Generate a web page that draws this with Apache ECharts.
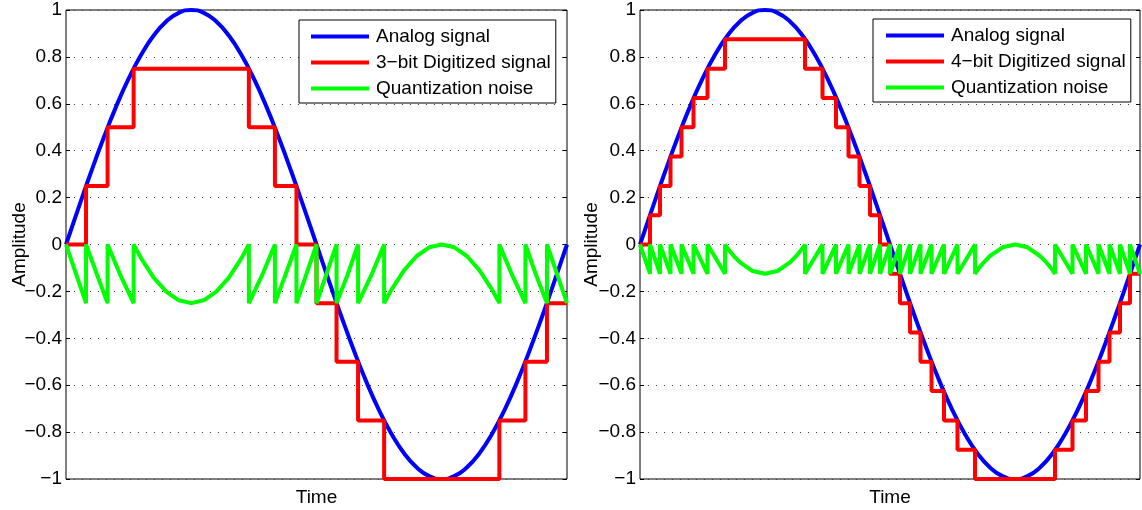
<!DOCTYPE html>
<html>
<head>
<meta charset="utf-8">
<title>Quantization</title>
<script src="https://cdn.jsdelivr.net/npm/echarts@6/dist/echarts.min.js"></script>
<style>
	html, body {
		margin: 0;
		padding: 0;
		background: #fff;
	}
	#chart {
		width: 1142px;
		height: 510px;
	}
</style>
</head>
<body>
<div id="chart"></div>
<script>
	// one period of the analog sine
	const timeAxis = [0, 0.025, 0.05, 0.075, 0.1, 0.125, 0.15, 0.175, 0.2, 0.225, 0.25, 0.275, 0.3, 0.325, 0.35, 0.375, 0.4, 0.425, 0.45, 0.475, 0.5,
		0.525, 0.55, 0.575, 0.6, 0.625, 0.65, 0.675, 0.7, 0.725, 0.75, 0.775, 0.8, 0.825, 0.85, 0.875, 0.9, 0.925, 0.95, 0.975, 1]
	const analog = [0, 0.156, 0.309, 0.454, 0.588, 0.707, 0.809, 0.891, 0.951, 0.988, 1, 0.988, 0.951, 0.891, 0.809, 0.707, 0.588, 0.454, 0.309, 0.156, 0,
		-0.156, -0.309, -0.454, -0.588, -0.707, -0.809, -0.891, -0.951, -0.988, -1, -0.988, -0.951, -0.891, -0.809, -0.707, -0.588, -0.454, -0.309, -0.156, 0]

	// 3-bit digitized signal: time where each level starts
	const digi3Time = [0, 0.040, 0.083, 0.135, 0.365, 0.417, 0.460, 0.500, 0.540, 0.583, 0.635, 0.865, 0.917, 0.960, 1]
	const digi3Level = [0, 0.25, 0.5, 0.75, 0.5, 0.25, 0, -0.25, -0.5, -0.75, -1, -0.75, -0.5, -0.25, -0.25]

	// 4-bit digitized signal
	const digi4Time = [0, 0.020, 0.040, 0.061, 0.083, 0.107, 0.135, 0.170, 0.330, 0.365, 0.392, 0.417, 0.439, 0.460, 0.480,
		0.500, 0.520, 0.540, 0.561, 0.583, 0.608, 0.635, 0.670, 0.830, 0.865, 0.892, 0.917, 0.939, 0.960, 0.980, 1]
	const digi4Level = [0, 0.125, 0.25, 0.375, 0.5, 0.625, 0.75, 0.875, 0.75, 0.625, 0.5, 0.375, 0.25, 0.125, 0,
		-0.125, -0.25, -0.375, -0.5, -0.625, -0.75, -0.875, -1, -0.875, -0.75, -0.625, -0.5, -0.375, -0.25, -0.125, -0.125]

	// quantization noise, 3-bit
	const noise3Time = [0, 0.040, 0.040, 0.062, 0.083, 0.083, 0.109, 0.135,
		0.135, 0.150, 0.175, 0.200, 0.225, 0.250, 0.275, 0.300, 0.325, 0.350, 0.365,
		0.365, 0.391, 0.417, 0.417, 0.438, 0.460, 0.460, 0.500, 0.500, 0.540, 0.540, 0.562, 0.583, 0.583, 0.609, 0.635,
		0.635, 0.650, 0.675, 0.700, 0.725, 0.750, 0.775, 0.800, 0.825, 0.850, 0.865,
		0.865, 0.891, 0.917, 0.917, 0.938, 0.960, 0.960, 1]
	const noise3Value = [0, -0.25, 0, -0.129, -0.25, 0, -0.133, -0.25,
		0, -0.059, -0.141, -0.201, -0.238, -0.25, -0.238, -0.201, -0.141, -0.059, 0,
		-0.25, -0.133, 0, -0.25, -0.129, 0, -0.25, 0, -0.25, 0, -0.25, -0.129, 0, -0.25, -0.133, 0,
		-0.25, -0.191, -0.109, -0.049, -0.012, 0, -0.012, -0.049, -0.109, -0.191, -0.25,
		0, -0.133, -0.25, 0, -0.129, -0.25, 0, -0.25]

	// quantization noise, 4-bit
	const noise4Time = [0, 0.020, 0.020, 0.040, 0.040, 0.061, 0.061, 0.083, 0.083, 0.107, 0.107, 0.135, 0.135, 0.170,
		0.170, 0.175, 0.1875, 0.200, 0.225, 0.250, 0.275, 0.300, 0.3125, 0.325, 0.330,
		0.330, 0.365, 0.365, 0.392, 0.392, 0.417, 0.417, 0.439, 0.439, 0.460, 0.460, 0.480, 0.480, 0.500,
		0.500, 0.520, 0.520, 0.540, 0.540, 0.561, 0.561, 0.583, 0.583, 0.608, 0.608, 0.635, 0.635, 0.670,
		0.670, 0.675, 0.6875, 0.700, 0.725, 0.750, 0.775, 0.800, 0.8125, 0.825, 0.830,
		0.830, 0.865, 0.865, 0.892, 0.892, 0.917, 0.917, 0.939, 0.939, 0.960, 0.960, 0.980, 0.980, 1]
	const noise4Value = [0, -0.125, 0, -0.125, 0, -0.125, 0, -0.125, 0, -0.125, 0, -0.125, 0, -0.125,
		0, -0.016, -0.049, -0.076, -0.113, -0.125, -0.113, -0.076, -0.049, -0.016, 0,
		-0.125, 0, -0.125, 0, -0.125, 0, -0.125, 0, -0.125, 0, -0.125, 0, -0.125, 0,
		-0.125, 0, -0.125, 0, -0.125, 0, -0.125, 0, -0.125, 0, -0.125, 0, -0.125, 0,
		-0.125, -0.109, -0.076, -0.049, -0.012, 0, -0.012, -0.049, -0.076, -0.109, -0.125,
		0, -0.125, 0, -0.125, 0, -0.125, 0, -0.125, 0, -0.125, 0, -0.125, 0, -0.125]

	const legend3 = ["Analog signal", "3\u2212bit Digitized signal", "Quantization noise"]
	const legend4 = ["Analog signal", "4\u2212bit Digitized signal", "Quantization noise"]

	const font = "'Liberation Sans', Arial, sans-serif"
	const lineW = 4

	function zip(xs, ys) {
		return xs.map((x, i) => [x, ys[i]])
	}

	function xAxisFor(idx) {
		return {
			type: "value",
			gridIndex: idx,
			min: 0,
			max: 1,
			name: "Time",
			nameLocation: "middle",
			nameGap: 9,
			nameMoveOverlap: false,
			nameTextStyle: { fontFamily: font, fontSize: 19, color: "#000" },
			axisLine: { show: false },
			axisTick: { show: false },
			axisLabel: { show: false },
			splitLine: { show: false }
		}
	}

	function yAxisFor(idx, gap) {
		return {
			type: "value",
			gridIndex: idx,
			min: -1,
			max: 1,
			interval: 0.2,
			name: "Amplitude",
			nameLocation: "middle",
			nameGap: gap,
			nameMoveOverlap: false,
			nameTextStyle: { fontFamily: font, fontSize: 19, color: "#000" },
			axisLine: { show: false },
			axisTick: { show: true, inside: true, length: 4, lineStyle: { color: "#000" } },
			axisLabel: {
				margin: 4,
				fontFamily: font,
				fontSize: 19,
				color: "#000",
				formatter: (v) => String(+v.toFixed(1)).replace("-", "\u2212")
			},
			splitLine: {
				show: true,
				lineStyle: { color: "#444", width: 1, type: [1, 7] }
			}
		}
	}

	// mirrored ticks on the right side of the box
	function yRightFor(idx) {
		return {
			type: "value",
			gridIndex: idx,
			position: "right",
			min: -1,
			max: 1,
			interval: 0.2,
			axisLine: { show: false },
			axisTick: { show: true, inside: true, length: 4, lineStyle: { color: "#000" } },
			axisLabel: { show: false },
			splitLine: { show: false }
		}
	}

	function lineSeries(name, data, color, xi, yi, step, smooth) {
		return {
			name: name,
			type: "line",
			xAxisIndex: xi,
			yAxisIndex: yi,
			data: data,
			step: step || false,
			smooth: smooth || false,
			symbol: "none",
			clip: false,
			animation: false,
			lineStyle: { color: color, width: lineW },
			itemStyle: { color: color }
		}
	}

	function legendFor(data, left, top, padLeft) {
		return {
			orient: "vertical",
			left: left,
			top: top,
			data: data,
			icon: "rect",
			padding: [7, 5, 5, padLeft],
			itemGap: 7,
			itemWidth: 58,
			itemHeight: 4,
			borderColor: "#000",
			borderWidth: 1,
			borderRadius: 0,
			backgroundColor: "#fff",
			selectedMode: false,
			textStyle: { fontFamily: font, fontSize: 19, color: "#000", lineHeight: 19, padding: [0, 0, 0, 2] }
		}
	}

	function gridAt(left, width) {
		return {
			left: left,
			top: 10,
			width: width,
			height: 469,
			outerBoundsMode: "none",
			show: true,
			borderColor: "#000",
			borderWidth: 1,
			backgroundColor: "transparent"
		}
	}

	const chart = echarts.init(document.getElementById("chart"))
	chart.setOption({
		backgroundColor: "#fff",
		animation: false,
		grid: [gridAt(66, 501), gridAt(640, 500)],
		xAxis: [xAxisFor(0), xAxisFor(1)],
		yAxis: [yAxisFor(0, 37), yAxisFor(1, 39), yRightFor(0), yRightFor(1)],
		legend: [
			legendFor(legend3, 299, 20, 12),
			legendFor(legend4, 873, 19, 13)
		],
		series: [
			lineSeries(legend3[0], zip(timeAxis, analog), "#0000ff", 0, 0, false, 0.5),
			lineSeries(legend3[1], zip(digi3Time, digi3Level), "#ff0000", 0, 0, "end"),
			lineSeries(legend3[2], zip(noise3Time, noise3Value), "#00ff00", 0, 0),
			lineSeries(legend4[0], zip(timeAxis, analog), "#0000ff", 1, 1, false, 0.5),
			lineSeries(legend4[1], zip(digi4Time, digi4Level), "#ff0000", 1, 1, "end"),
			lineSeries(legend4[2], zip(noise4Time, noise4Value), "#00ff00", 1, 1)
		]
	})
</script>
</body>
</html>
